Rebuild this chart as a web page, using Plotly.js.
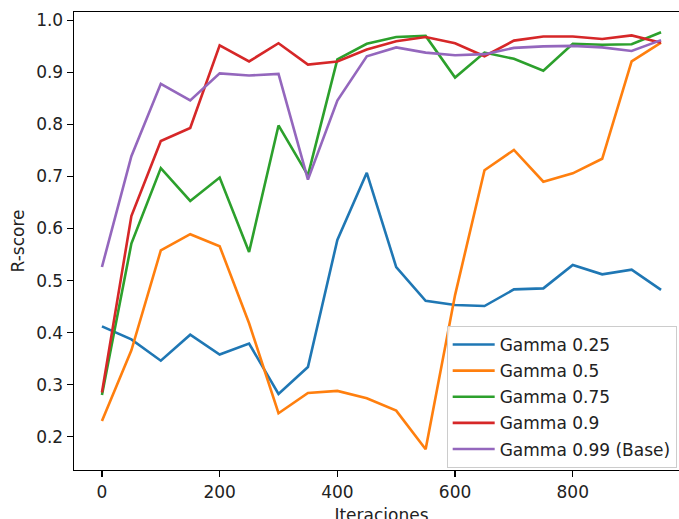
<!DOCTYPE html>
<html>
<head>
<meta charset="utf-8">
<script src="https://cdn.plot.ly/plotly-3.0.1.min.js"></script>
<style>
html,body{margin:0;padding:0;overflow:hidden;background:#fff;width:679px;height:519px;}
#chart{width:700px;height:530px;}
</style>
</head>
<body>
<div id="chart"></div>
<script>
const iteraciones = [0,50,100,150,200,250,300,350,400,450,500,550,600,650,700,750,800,850,900,950];
const gamma025 = [0.412,0.387,0.346,0.396,0.358,0.379,0.282,0.334,0.578,0.707,0.526,0.461,0.453,0.451,0.483,0.485,0.530,0.512,0.521,0.482];
const gamma05  = [0.230,0.366,0.558,0.589,0.566,0.418,0.245,0.284,0.288,0.274,0.250,0.176,0.472,0.712,0.751,0.690,0.706,0.734,0.921,0.957];
const gamma075 = [0.280,0.571,0.716,0.653,0.698,0.555,0.798,0.702,0.925,0.955,0.968,0.970,0.890,0.938,0.926,0.903,0.955,0.953,0.954,0.977];
const gamma09  = [0.285,0.624,0.768,0.793,0.952,0.921,0.956,0.915,0.921,0.944,0.960,0.968,0.956,0.931,0.961,0.969,0.969,0.964,0.971,0.957];
const gamma099 = [0.526,0.739,0.878,0.846,0.898,0.894,0.897,0.694,0.846,0.931,0.948,0.938,0.933,0.935,0.947,0.950,0.951,0.948,0.941,0.962];
const seriesNames = ["Gamma 0.25","Gamma 0.5","Gamma 0.75","Gamma 0.9","Gamma 0.99 (Base)"];
const seriesValues = [gamma025, gamma05, gamma075, gamma09, gamma099];
const colors = ["#1f77b4","#ff7f0e","#2ca02c","#d62728","#9467bd"];
const xTicks = [0,200,400,600,800];
const yTicks = [0.2,0.3,0.4,0.5,0.6,0.7,0.8,0.9,1.0];

const traces = seriesValues.map((vals,i)=>({
  x: iteraciones, y: vals, type:'scatter', mode:'lines', name: seriesNames[i],
  line:{color:colors[i], width:2.6}, legendgroup:'g'+i
}));

const font = {family:'DejaVu Sans, sans-serif', size:17, color:'#222'};
const layout = {
  width:700, height:530,
  margin:{l:74, r:11, t:12, b:60},
  paper_bgcolor:'#fff', plot_bgcolor:'#fff',
  font: font,
  showlegend:true,
  legend:{x:0.606, y:0.3144, xanchor:'left', yanchor:'top',
    bgcolor:'rgba(255,255,255,0.8)', bordercolor:'#cccccc', borderwidth:1,
    font:font, tracegroupgap:1, itemwidth:42},
  xaxis:{range:[-47.5,997.5], tickvals:xTicks, ticks:'outside', ticklen:6, tickwidth:1.4,
    tickcolor:'#000', showline:true, linecolor:'#000', linewidth:1.4, mirror:true,
    showgrid:false, zeroline:false, tickfont:font,
    title:{text:'Iteraciones', font:font, standoff:8}},
  yaxis:{range:[0.136,1.016], tickvals:yTicks, tickformat:'.1f', ticks:'outside', ticklen:6, tickwidth:1.4,
    tickcolor:'#000', showline:true, linecolor:'#000', linewidth:1.4, mirror:true,
    showgrid:false, zeroline:false, tickfont:font,
    title:{text:'R-score', font:font, standoff:7}}
};
Plotly.newPlot('chart', traces, layout, {staticPlot:true, displayModeBar:false});
</script>
</body>
</html>
